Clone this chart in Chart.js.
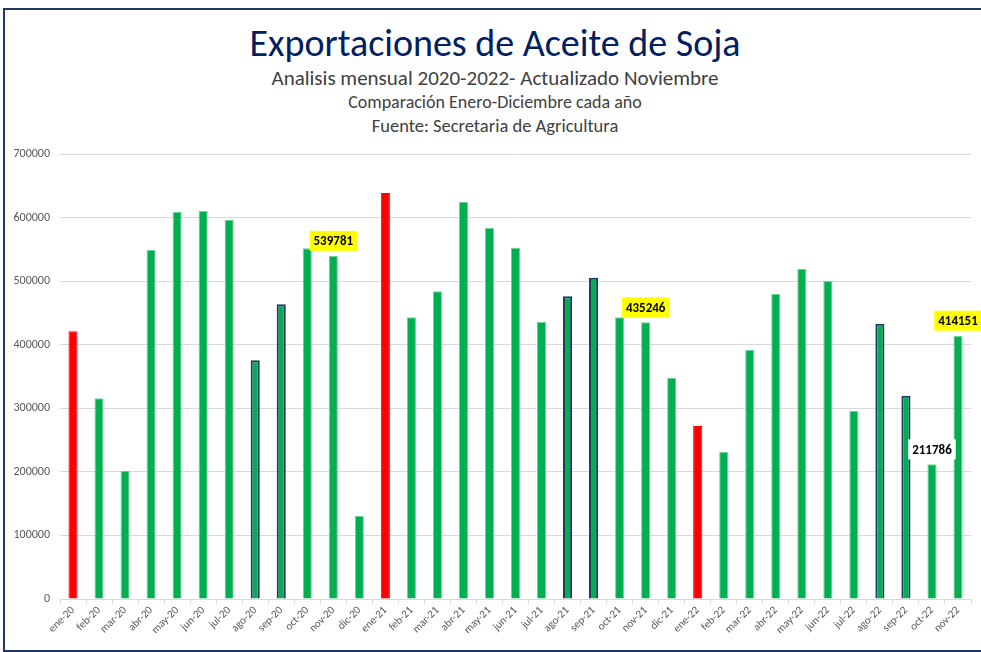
<!DOCTYPE html>
<html>
<head>
<meta charset="utf-8">
<script src="https://cdn.jsdelivr.net/npm/chart.js@4.4.0/dist/chart.umd.min.js"></script>
<style>
  body { margin: 0; background: #fff; }
  #wrap { position: relative; width: 981px; height: 652px; overflow: hidden; }
  #frame { position: absolute; left: 3px; top: 8px; width: 1000px; height: 640px;
           border: 2px solid #1f3864; border-right: none; }
  .t { position: absolute; left: 0; width: 990px; text-align: center;
       font-family: Carlito, Calibri, "Liberation Sans Narrow", "Open Sans", sans-serif; white-space: nowrap; }
  #title { top: 20px; font-size: 38px; color: #002060; }
  #sub1 { top: 65px; font-size: 21px; color: #404040; }
  #sub2 { top: 91px; font-size: 18px; color: #404040; }
  #sub3 { top: 114px; font-size: 18.5px; color: #404040; }
  canvas { position: absolute; left: 0; top: 0; }
</style>
</head>
<body>
<div id="wrap">
  <div id="frame"></div>
  <div class="t" id="title">Exportaciones de Aceite de Soja</div>
  <div class="t" id="sub1">Analisis mensual 2020-2022- Actualizado Noviembre</div>
  <div class="t" id="sub2">Comparación Enero-Diciembre cada año</div>
  <div class="t" id="sub3">Fuente: Secretaria de Agricultura</div>
  <canvas id="myChart" width="981" height="652"></canvas>
</div>
<script>
const months = ['ene-20','feb-20','mar-20','abr-20','may-20','jun-20','jul-20','ago-20','sep-20','oct-20','nov-20','dic-20',
                'ene-21','feb-21','mar-21','abr-21','may-21','jun-21','jul-21','ago-21','sep-21','oct-21','nov-21','dic-21',
                'ene-22','feb-22','mar-22','abr-22','may-22','jun-22','jul-22','ago-22','sep-22','oct-22','nov-22'];
const exportsTon = [421000, 315700, 201900, 549500, 608800, 610300, 596200, 375500, 463600, 551600, 539781, 131100,
                    638600, 443100, 484000, 624500, 584100, 552700, 436200, 476100, 505500, 443100, 435246, 347600,
                    272100, 231200, 391700, 479800, 519100, 500200, 295700, 433100, 319800, 211786, 414151];
const januaryMonths = ['ene-20', 'ene-21', 'ene-22'];
const outlinedMonths = ['ago-20', 'sep-20', 'ago-21', 'sep-21', 'ago-22', 'sep-22'];
const highlightMonths = ['nov-20', 'nov-21', 'nov-22'];
const plainLabelMonths = ['oct-22'];
const yTicks = [0, 100000, 200000, 300000, 400000, 500000, 600000, 700000];

const fontStack = 'Carlito, Calibri, "Liberation Sans Narrow", "Open Sans", sans-serif';
Chart.defaults.font.family = fontStack;

const fills = months.map(m => januaryMonths.includes(m) ? '#ff0000' : '#00b050');
const borders = months.map(m => outlinedMonths.includes(m) ? '#1f3864' : (januaryMonths.includes(m) ? '#ff0000' : '#6ed394'));
const widths = months.map(m => outlinedMonths.includes(m) ? 2 : 1);

// draws the boxed value labels above the chosen bars
const valueBoxes = {
  id: 'valueBoxes',
  afterDatasetsDraw(chart) {
    const ctx = chart.ctx;
    const meta = chart.getDatasetMeta(0);
    ctx.save();
    ctx.font = 'bold 13px ' + fontStack;
    ctx.textAlign = 'center';
    ctx.textBaseline = 'middle';
    months.forEach((m, i) => {
      const yellow = highlightMonths.includes(m);
      if (!yellow && !plainLabelMonths.includes(m)) return;
      const bar = meta.data[i];
      const txt = String(exportsTon[i]);
      const w = ctx.measureText(txt).width + 8;
      const h = 20;
      const top = bar.y - 5 - h;
      ctx.fillStyle = yellow ? '#ffff00' : '#ffffff';
      ctx.fillRect(bar.x - w / 2, top, w, h);
      ctx.fillStyle = '#000';
      ctx.fillText(txt, bar.x, top + h / 2 + 1);
    });
    ctx.restore();
  }
};

const ctx = document.getElementById('myChart').getContext('2d');
const myChart = new Chart(ctx, {
  type: 'bar',
  data: {
    labels: months,
    datasets: [{
      data: exportsTon,
      backgroundColor: fills,
      borderColor: borders,
      borderWidth: widths,
      barPercentage: 0.35,
      categoryPercentage: 1
    }]
  },
  options: {
    responsive: false,
    animation: false,
    layout: { padding: { top: 154, right: 10, bottom: 5, left: 0 } },
    plugins: { legend: { display: false }, tooltip: { enabled: false } },
    scales: {
      x: {
        afterFit: axis => { axis.height = 48; },
        grid: { offset: true, drawOnChartArea: false, tickLength: 5, color: '#d9d9d9' },
        border: { color: '#d9d9d9' },
        ticks: { color: '#595959', font: { size: 11 }, minRotation: 45, maxRotation: 45, autoSkip: false, padding: 0 }
      },
      y: {
        min: 0,
        max: 700000,
        afterFit: axis => { axis.width = 60; },
        afterBuildTicks: axis => { axis.ticks = yTicks.map(v => ({ value: v })); },
        grid: { color: '#d9d9d9', drawTicks: false },
        border: { display: false },
        ticks: { color: '#595959', font: { size: 12 }, padding: 10, callback: v => v }
      }
    }
  },
  plugins: [valueBoxes]
});
</script>
</body>
</html>
